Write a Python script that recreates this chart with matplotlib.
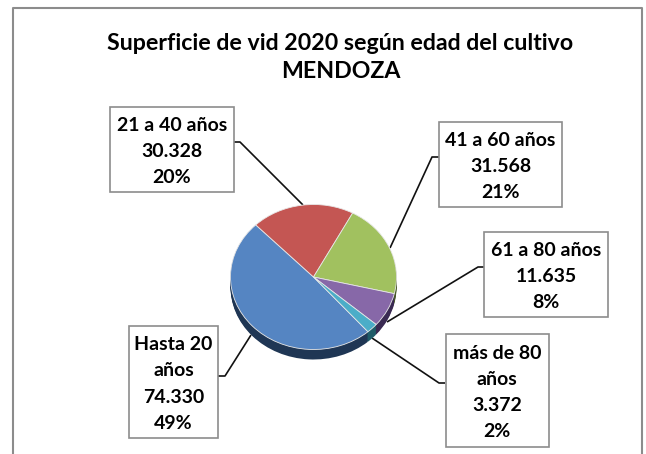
import matplotlib
matplotlib.use('Agg')
import matplotlib.pyplot as plt
from matplotlib.patches import Rectangle

# Datos
categorias = ['Hasta 20 años', '21 a 40 años', '41 a 60 años', '61 a 80 años', 'más de 80 años']
hectareas = [74330, 30328, 31568, 11635, 3372]
etiquetas = ['Hasta 20\naños\n74.330\n49%', '21 a 40 años\n30.328\n20%', '41 a 60 años\n31.568\n21%',
             '61 a 80 años\n11.635\n8%', 'más de 80\naños\n3.372\n2%']
colores = ['#5585c2', '#c45653', '#a1c15f', '#8768a8', '#4badc8']
colores_lado = ['#1f3654', '#5a2524', '#4a5a2a', '#3a2a52', '#1f5c68']

W, H = 646, 454
plt.rcParams['font.family'] = ['Lato', 'DejaVu Sans']
fig = plt.figure(figsize=(W / 100, H / 100), dpi=100, facecolor='white')

# capa en pixeles
base = fig.add_axes([0, 0, 1, 1])
base.set_xlim(0, W)
base.set_ylim(H, 0)
base.axis('off')


def pie_en(cx, cy, rx, ry, cols, borde):
    ax = fig.add_axes([(cx - rx) / W, 1 - (cy + ry) / H, 2 * rx / W, 2 * ry / H])
    ax.pie(hectareas, colors=cols, startangle=-49, counterclock=False,
           wedgeprops={'edgecolor': borde, 'linewidth': 0.6})
    ax.set_aspect('auto')
    ax.set_xlim(-1, 1)
    ax.set_ylim(-1, 1)
    ax.axis('off')
    ax.patch.set_alpha(0)


# marco
base.plot([12.5, 12.5, 642, 642], [454, 7.5, 7.5, 454], color='#8c8c8c', lw=1.5)

# titulo
base.text(340.5, 43, 'Superficie de vid 2020 según edad del cultivo', ha='center', va='center',
          fontsize=16.7, fontweight='bold', color='black')
base.text(341, 72, 'MENDOZA', ha='center', va='center', fontsize=16.7, fontweight='bold', color='black')

# lineas guia
guias = [
    [(234, 142), (240, 142), (303, 205)],
    [(439, 157), (432, 157), (390, 248)],
    [(484, 267), (478, 267), (387, 322)],
    [(445, 383), (439, 383), (372, 338)],
    [(218, 376), (225, 376), (251, 335)],
]
for g in guias:
    base.plot([p[0] for p in g], [p[1] for p in g], color='#111111', lw=1.2, solid_capstyle='butt')

# lado y cara del pastel
for d in range(10, 0, -1):
    pie_en(313.5, 277 + d, 83, 72.5, colores_lado, 'none')
pie_en(313.5, 277, 83, 72.5, colores, '#e8e8e8')

# cajas
cajas = [(129, 326, 89, 112), (110, 107, 124, 85), (439, 122, 123, 85), (484, 232, 124, 85), (445.5, 334, 103.5, 113)]
top = fig.add_axes([0, 0, 1, 1])
top.set_xlim(0, W)
top.set_ylim(H, 0)
top.axis('off')
for (x, y, w, h), t in zip(cajas, etiquetas):
    top.add_patch(Rectangle((x, y), w, h, facecolor='white', edgecolor='#8c8c8c', lw=1.2))
    top.text(x + w / 2, y + h / 2 + 2, t, ha='center', va='center', fontsize=14, fontweight='bold',
             color='black', linespacing=1.65)

fig.savefig('out.png', dpi=100)
